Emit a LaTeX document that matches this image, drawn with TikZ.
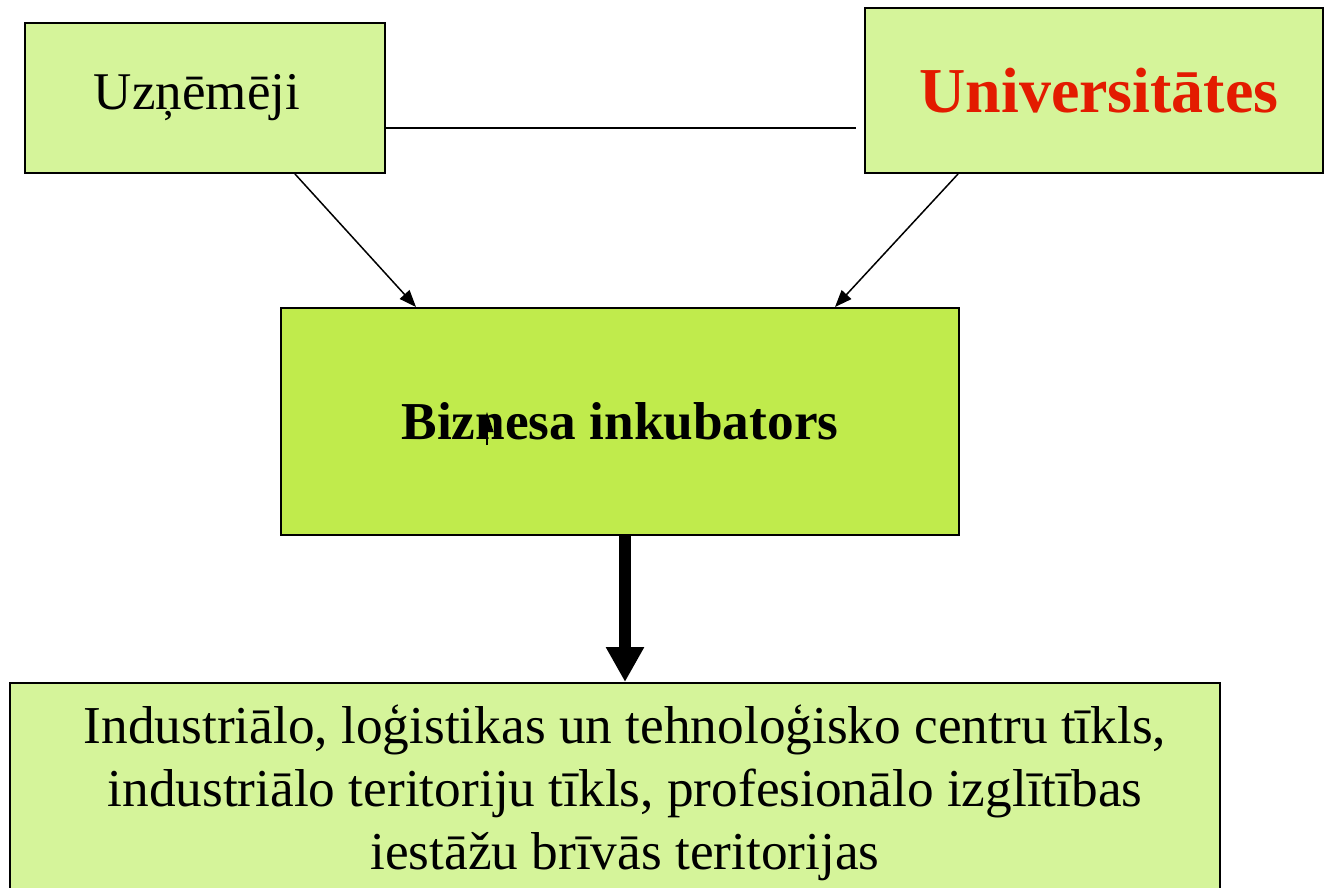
\documentclass[tikz,border=0pt]{standalone}
\usepackage{fontspec}
\setmainfont{Liberation Serif}
\usetikzlibrary{arrows.meta}
\definecolor{lightgr}{HTML}{D5F49A}
\definecolor{midgr}{HTML}{C0EB4C}
\definecolor{unired}{HTML}{E31B00}
\tikzset{
  box/.style={draw=black, line width=2pt, rectangle, inner sep=0pt},
  conn/.style={draw=black, line width=1.5pt},
  thinarrow/.style={conn, -{Triangle[length=17pt,width=13pt]}},
  bigarrow/.style={draw=black, line width=12pt, -{Triangle[length=35pt,width=36pt]}}
}
\begin{document}
\begin{tikzpicture}[x=1pt,y=-1pt]
\useasboundingbox (0,0) rectangle (1324,887);
\node[box, fill=lightgr, minimum width=360pt, minimum height=150pt,
      font=\fontsize{53}{63}\selectfont] (uz) at (205,98) {Uzņēmēji\hspace*{16pt}};
\node[box, fill=lightgr, minimum width=458pt, minimum height=165pt,
      font=\fontsize{64}{72}\selectfont\bfseries, text=unired] (un) at (1094,90.5) {\hspace*{10pt}Universitātes};
\node[box, fill=midgr, minimum width=678pt, minimum height=227pt,
      font=\fontsize{53.3}{60}\selectfont\bfseries] (bi) at (620,421.5) {Biznesa inkubators};
\node[box, fill=lightgr, minimum width=1210pt, minimum height=260pt] (bo) at (615,813) {};
\node[align=center, inner sep=0pt, font=\fontsize{53.3}{63}\selectfont] (bt) at (625,793)
  {Industriālo, loģistikas un tehnoloģisko centru tīkls,\\
   industriālo teritoriju tīkls, profesionālo izglītības\\
   iestāžu brīvās teritorijas};
\draw[conn] ([yshift=-30pt]uz.east) -- ([xshift=-8pt,yshift=-37.5pt]un.west);
\draw[thinarrow] ([xshift=90pt]uz.south) -- ([xshift=-204pt]bi.north);
\draw[thinarrow] ([xshift=-136pt]un.south) -- ([xshift=215pt]bi.north);
\draw[bigarrow] ([xshift=5pt]bi.south) -- ([xshift=10pt]bo.north);
\coordinate (strayA) at (487,445);
\coordinate (strayB) at (487,412);
\draw[conn, line width=1.5pt, -{Triangle[length=20pt,width=13pt]}] (strayA) -- (strayB);
\end{tikzpicture}
\end{document}
